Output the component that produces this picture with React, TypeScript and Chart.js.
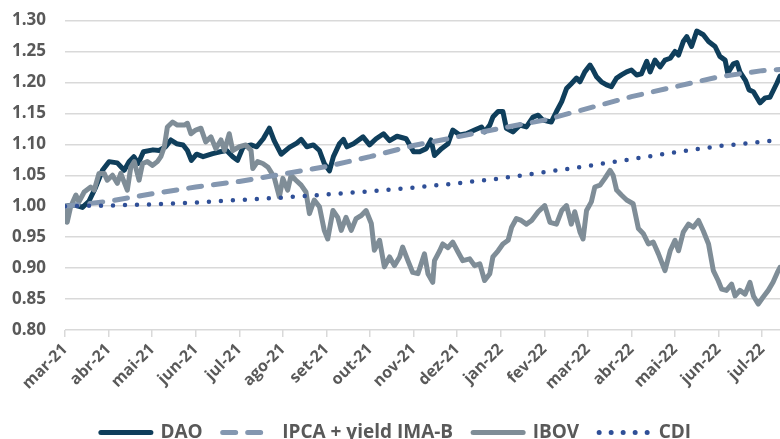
import React, { useEffect, useRef } from "react";
import { Chart, registerables } from "chart.js";

Chart.register(...registerables);

const monthLabels = [
  "mar-21", "abr-21", "mai-21", "jun-21", "jul-21", "ago-21", "set-21", "out-21", "nov-21",
  "dez-21", "jan-22", "fev-22", "mar-22", "abr-22", "mai-22", "jun-22", "jul-22",
];

const seriesNames = ["DAO", "IPCA + yield IMA-B", "IBOV", "CDI"];

// x = months since mar-21
const daoX = [
  0.00, 0.21, 0.40, 0.55, 0.70, 0.86, 1.01, 1.20, 1.36, 1.47, 1.58, 1.68, 1.80, 2.02, 2.16, 2.31,
  2.43, 2.56, 2.71, 2.81, 2.90, 3.02, 3.17, 3.39, 3.56, 3.71, 3.85, 3.96, 4.09, 4.27, 4.40, 4.55,
  4.69, 4.80, 4.96, 5.15, 5.32, 5.42, 5.55, 5.70, 5.84, 5.95, 6.07, 6.16, 6.30, 6.39, 6.47, 6.62,
  6.84, 6.99, 7.14, 7.31, 7.45, 7.62, 7.83, 8.00, 8.14, 8.29, 8.40, 8.48, 8.64, 8.79, 8.90, 9.06,
  9.21, 9.40, 9.56, 9.63, 9.75, 9.82, 9.94, 10.05, 10.13, 10.28, 10.44, 10.59, 10.74, 10.86, 10.97,
  11.16, 11.28, 11.40, 11.51, 11.62, 11.74, 11.82, 11.93, 12.05, 12.12, 12.20, 12.31, 12.43, 12.54,
  12.66, 12.77, 12.89, 13.00, 13.12, 13.23, 13.35, 13.43, 13.54, 13.66, 13.77, 13.89, 14.00, 14.08,
  14.19, 14.27, 14.38, 14.50, 14.65, 14.77, 14.92, 15.03, 15.15, 15.21, 15.34, 15.42, 15.49, 15.62,
  15.70, 15.80, 15.95, 16.07, 16.18, 16.34, 16.41,
];
const daoY = [
  1.000, 1.002, 0.998, 1.008, 1.030, 1.058, 1.072, 1.070, 1.058, 1.072, 1.080, 1.069, 1.088, 1.091, 1.090, 1.096,
  1.107, 1.101, 1.099, 1.090, 1.074, 1.084, 1.080, 1.085, 1.088, 1.090, 1.080, 1.074, 1.096, 1.099, 1.096, 1.109,
  1.126, 1.106, 1.084, 1.095, 1.102, 1.108, 1.096, 1.099, 1.090, 1.069, 1.057, 1.080, 1.101, 1.108, 1.096, 1.101,
  1.112, 1.099, 1.109, 1.117, 1.106, 1.113, 1.109, 1.088, 1.088, 1.093, 1.107, 1.082, 1.093, 1.101, 1.123, 1.115,
  1.117, 1.123, 1.128, 1.120, 1.131, 1.144, 1.153, 1.153, 1.126, 1.120, 1.131, 1.128, 1.144, 1.147, 1.139,
  1.136, 1.153, 1.169, 1.190, 1.198, 1.207, 1.201, 1.217, 1.228, 1.220, 1.209, 1.201, 1.196, 1.193,
  1.207, 1.212, 1.217, 1.220, 1.212, 1.214, 1.234, 1.217, 1.236, 1.225, 1.236, 1.239, 1.250, 1.244,
  1.266, 1.274, 1.258, 1.283, 1.277, 1.266, 1.258, 1.242, 1.236, 1.215, 1.230, 1.232, 1.217, 1.203,
  1.188, 1.185, 1.167, 1.175, 1.176, 1.199, 1.210,
];

const ibovX = [
  0.00, 0.05, 0.13, 0.25, 0.32, 0.44, 0.59, 0.67, 0.78, 0.90, 0.97, 1.09, 1.20, 1.28, 1.43, 1.51,
  1.59, 1.70, 1.78, 1.89, 2.01, 2.12, 2.20, 2.28, 2.35, 2.47, 2.58, 2.74, 2.81, 2.89, 3.00, 3.12,
  3.23, 3.35, 3.46, 3.58, 3.66, 3.77, 3.85, 4.00, 4.15, 4.27, 4.31, 4.42, 4.54, 4.66, 4.80, 4.92,
  5.00, 5.11, 5.19, 5.30, 5.42, 5.53, 5.61, 5.72, 5.84, 5.95, 6.03, 6.15, 6.26, 6.34, 6.45, 6.57,
  6.68, 6.80, 6.91, 7.03, 7.10, 7.22, 7.33, 7.45, 7.56, 7.68, 7.75, 7.87, 7.98, 8.10, 8.25, 8.33,
  8.44, 8.48, 8.60, 8.67, 8.79, 8.90, 9.02, 9.13, 9.29, 9.40, 9.52, 9.63, 9.75, 9.82, 9.94, 10.05,
  10.17, 10.25, 10.36, 10.47, 10.59, 10.71, 10.86, 11.01, 11.13, 11.28, 11.40, 11.51, 11.62, 11.70,
  11.82, 11.89, 11.97, 12.08, 12.16, 12.28, 12.39, 12.51, 12.58, 12.66, 12.77, 12.89, 13.04, 13.16,
  13.27, 13.39, 13.50, 13.62, 13.77, 13.89, 14.00, 14.08, 14.19, 14.31, 14.42, 14.54, 14.65, 14.77,
  14.88, 14.99, 15.07, 15.18, 15.30, 15.38, 15.49, 15.61, 15.72, 15.80, 15.91, 16.02, 16.14, 16.25,
  16.35, 16.41,
];
const ibovY = [
  1.000, 0.974, 0.999, 1.018, 1.007, 1.023, 1.031, 1.026, 1.053, 1.053, 1.042, 1.050, 1.037, 1.053, 1.026, 1.063,
  1.072, 1.042, 1.069, 1.072, 1.066, 1.072, 1.080, 1.096, 1.128, 1.136, 1.131, 1.131, 1.134, 1.117, 1.123, 1.126,
  1.104, 1.112, 1.093, 1.107, 1.090, 1.117, 1.090, 1.096, 1.099, 1.090, 1.061, 1.072, 1.069, 1.063, 1.047, 1.015,
  1.045, 1.026, 1.050, 1.042, 1.034, 1.023, 0.988, 1.010, 0.999, 0.961, 0.947, 0.993, 0.982, 0.961, 0.982, 0.961,
  0.980, 0.985, 0.993, 0.972, 0.929, 0.945, 0.902, 0.918, 0.904, 0.918, 0.934, 0.912, 0.893, 0.891, 0.923, 0.891,
  0.877, 0.912, 0.928, 0.939, 0.933, 0.942, 0.926, 0.912, 0.915, 0.904, 0.907, 0.880, 0.891, 0.918, 0.928, 0.939,
  0.945, 0.966, 0.980, 0.977, 0.971, 0.977, 0.991, 1.001, 0.974, 0.971, 0.993, 1.001, 0.971, 0.991,
  0.958, 0.947, 0.993, 1.007, 1.031, 1.034, 1.045, 1.058, 1.050, 1.026, 1.018, 1.010, 1.004, 0.964,
  0.956, 0.939, 0.942, 0.923, 0.896, 0.928, 0.945, 0.928, 0.958, 0.971, 0.966, 0.977, 0.960, 0.939,
  0.896, 0.880, 0.866, 0.864, 0.874, 0.855, 0.864, 0.858, 0.877, 0.855, 0.842, 0.853, 0.864, 0.877,
  0.893, 0.901,
];

const ipcaX = [0, 1, 2, 3, 4, 5, 6, 7, 8, 9, 10, 11, 12, 13, 14, 15, 16, 16.41];
const ipcaY = [1.000, 1.008, 1.020, 1.031, 1.040, 1.052, 1.064, 1.080, 1.098, 1.112, 1.126, 1.139, 1.158, 1.177, 1.193, 1.209, 1.219, 1.221];

const cdiX = [0, 1, 2, 3, 4, 5, 6, 7, 8, 9, 10, 11, 12, 13, 14, 15, 16, 16.41];
const cdiY = [1.000, 1.001, 1.003, 1.006, 1.010, 1.014, 1.019, 1.024, 1.030, 1.037, 1.045, 1.055, 1.065, 1.076, 1.087, 1.097, 1.104, 1.107];

const yTicksMin = 0.8;
const yTicksMax = 1.3;
const xMax = 16.41;

const zip = (xs: number[], ys: number[]) => xs.map((x, i) => ({ x, y: ys[i] }));

export default function App() {
  const ref = useRef<HTMLCanvasElement | null>(null);

  useEffect(() => {
    if (!ref.current) return;
    const textColor = "#595959";
    const chart = new Chart(ref.current, {
      type: "line",
      data: {
        datasets: [
          {
            label: seriesNames[0],
            data: zip(daoX, daoY),
            borderColor: "#0f3e5b",
            backgroundColor: "#0f3e5b",
            borderWidth: 5,
            borderJoinStyle: "round",
            borderCapStyle: "round",
            pointRadius: 0,
            order: 4,
          },
          {
            label: seriesNames[1],
            data: zip(ipcaX, ipcaY),
            borderColor: "#8497b0",
            backgroundColor: "#8497b0",
            borderWidth: 5,
            borderDash: [13, 12],
            borderCapStyle: "round",
            pointRadius: 0,
            order: 2,
          },
          {
            label: seriesNames[2],
            data: zip(ibovX, ibovY),
            borderColor: "#7f8d97",
            backgroundColor: "#7f8d97",
            borderWidth: 5,
            borderJoinStyle: "round",
            borderCapStyle: "round",
            pointRadius: 0,
            order: 3,
          },
          {
            label: seriesNames[3],
            data: zip(cdiX, cdiY),
            borderColor: "#2f4f97",
            backgroundColor: "#2f4f97",
            borderWidth: 4.5,
            borderDash: [0, 12],
            borderCapStyle: "round",
            pointRadius: 0,
            order: 1,
          },
        ],
      },
      options: {
        animation: false,
        responsive: true,
        maintainAspectRatio: false,
        layout: { padding: { left: 12, right: 0, top: 0, bottom: -13 } },
        plugins: {
          tooltip: { enabled: false },
          legend: {
            position: "bottom",
            labels: {
              usePointStyle: true,
              pointStyle: "line",
              pointStyleWidth: 50,
              padding: 20,
              color: textColor,
              font: { family: "'Open Sans', sans-serif", size: 19, weight: "bold" },
              generateLabels: (c: any) =>
                c.data.datasets.map((ds: any, i: number) => ({
                  text: ds.label,
                  fillStyle: ds.borderColor,
                  strokeStyle: ds.borderColor,
                  lineWidth: 5,
                  lineDash: ds.borderDash || [],
                  lineCap: "round",
                  pointStyle: "line",
                  hidden: false,
                  datasetIndex: i,
                  fontColor: textColor,
                })),
            },
          },
        },
        scales: {
          x: {
            type: "linear",
            min: 0,
            max: xMax,
            border: { display: false },
            afterFit: (s: any) => {
              s.paddingLeft = 0;
              s.paddingRight = 0;
              s.height = 73;
            },
            grid: {
              drawOnChartArea: false,
              drawTicks: true,
              tickLength: 7,
              color: "#d9d9d9",
              lineWidth: 1.5,
            },
            ticks: {
              stepSize: 1,
              includeBounds: false,
              autoSkip: false,
              maxRotation: 45,
              minRotation: 45,
              color: textColor,
              font: { family: "'Open Sans', sans-serif", size: 16, weight: "bold" },
              callback: (v: any) => monthLabels[Math.round(Number(v))] ?? "",
            },
          },
          y: {
            min: yTicksMin,
            max: yTicksMax,
            border: { display: false },
            afterFit: (s: any) => {
              s.width = 53;
              s.paddingTop = 20.5;
              s.paddingBottom = 0;
            },
            grid: { drawTicks: false, color: "#d9d9d9", lineWidth: 1.5 },
            ticks: {
              stepSize: 0.05,
              padding: 19,
              color: textColor,
              font: { family: "'Open Sans', sans-serif", size: 17, weight: "bold" },
              callback: (v: any) => Number(v).toFixed(2),
            },
          },
        },
      },
    });
    return () => chart.destroy();
  }, []);

  return (
    <div style={{ position: "fixed", left: 0, top: 0, width: 780, height: 439, background: "#fff" }}>
      <canvas ref={ref} />
    </div>
  );
}
